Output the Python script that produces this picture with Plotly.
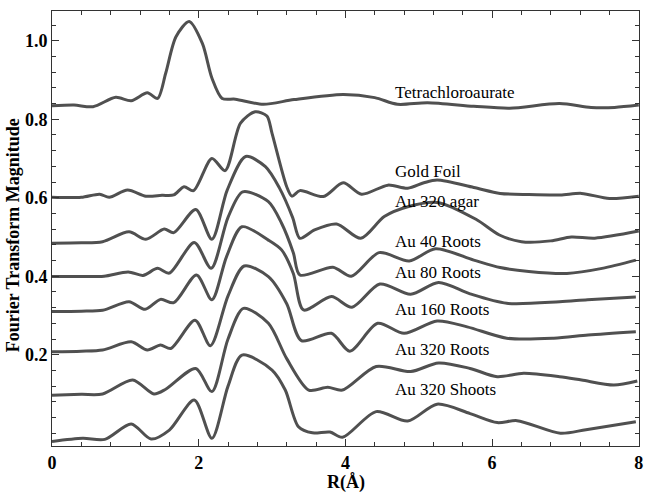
import plotly.graph_objects as go

# ---- data (R in Angstrom, FT magnitude incl. vertical offset) ----
tetra_x = [0, 0.3, 0.56, 0.87, 1.08, 1.30, 1.44, 1.55, 1.69, 1.87, 2.05, 2.18, 2.32, 2.5, 2.88, 3.3, 3.97, 4.4, 4.71, 5.12, 5.75, 6.24, 6.92, 7.35, 7.67, 8.0]
tetra_y = [0.834, 0.836, 0.832, 0.856, 0.847, 0.8675, 0.853, 0.917, 1.01, 1.049, 0.993, 0.905, 0.853, 0.851, 0.838, 0.850, 0.863, 0.855, 0.838, 0.842, 0.833, 0.828, 0.840, 0.830, 0.830, 0.836]

foil_x = [0, 0.4, 0.65, 0.78, 1.03, 1.28, 1.5, 1.66, 1.80, 1.93, 2.18, 2.36, 2.57, 2.77, 2.93, 3.0, 3.2, 3.27, 3.38, 3.70, 3.97, 4.22, 4.58, 4.85, 5.07, 5.25, 5.75, 6.11, 6.5, 6.93, 7.22, 7.60, 8.0]
foil_y = [0.601, 0.601, 0.609, 0.601, 0.6196, 0.604, 0.606, 0.607, 0.628, 0.618, 0.700, 0.669, 0.790, 0.819, 0.808, 0.764, 0.628, 0.604, 0.618, 0.603, 0.638, 0.609, 0.632, 0.624, 0.638, 0.645, 0.626, 0.611, 0.608, 0.607, 0.611, 0.598, 0.604]

agar_x = [0, 0.4, 0.69, 1.05, 1.28, 1.53, 1.66, 1.96, 2.18, 2.39, 2.64, 2.91, 3.10, 3.28, 3.38, 3.58, 3.88, 4.21, 4.53, 4.85, 5.25, 5.78, 6.1, 6.4, 6.8, 7.08, 7.40, 8.0]
agar_y = [0.484, 0.485, 0.488, 0.513, 0.494, 0.520, 0.511, 0.570, 0.494, 0.620, 0.705, 0.679, 0.625, 0.55, 0.4965, 0.518, 0.533, 0.4965, 0.552, 0.577, 0.588, 0.545, 0.505, 0.488, 0.490, 0.500, 0.497, 0.515]

r40_x = [0, 0.4, 0.71, 1.04, 1.24, 1.44, 1.60, 1.94, 2.17, 2.40, 2.60, 2.95, 3.13, 3.29, 3.38, 3.83, 4.08, 4.46, 4.87, 5.23, 5.75, 6.11, 6.5, 7.02, 7.5, 7.96]
r40_y = [0.399, 0.399, 0.400, 0.411, 0.402, 0.420, 0.408, 0.486, 0.420, 0.55, 0.615, 0.590, 0.535, 0.46, 0.403, 0.423, 0.400, 0.460, 0.439, 0.470, 0.441, 0.422, 0.412, 0.407, 0.420, 0.441]

r80_x = [0, 0.4, 0.69, 1.05, 1.27, 1.48, 1.66, 1.97, 2.18, 2.38, 2.59, 2.95, 3.13, 3.29, 3.43, 3.81, 4.09, 4.47, 4.89, 5.27, 5.7, 6.20, 6.92, 7.3, 7.96]
r80_y = [0.310, 0.311, 0.313, 0.335, 0.3156, 0.341, 0.3325, 0.403, 0.340, 0.45, 0.526, 0.492, 0.467, 0.407, 0.314, 0.348, 0.321, 0.380, 0.354, 0.384, 0.355, 0.331, 0.335, 0.340, 0.347]

r160_x = [0, 0.4, 0.69, 1.08, 1.30, 1.48, 1.62, 1.95, 2.16, 2.40, 2.62, 2.95, 3.2, 3.40, 3.81, 4.06, 4.44, 4.80, 5.25, 5.66, 6.20, 6.84, 7.31, 7.96]
r160_y = [0.2077, 0.209, 0.212, 0.233, 0.212, 0.2247, 0.216, 0.288, 0.223, 0.35, 0.426, 0.399, 0.33, 0.236, 0.2545, 0.209, 0.280, 0.2545, 0.286, 0.271, 0.242, 0.242, 0.250, 0.2586]

r320_x = [0, 0.4, 0.69, 1.10, 1.39, 1.55, 1.96, 2.18, 2.40, 2.61, 2.95, 3.20, 3.50, 3.76, 3.96, 4.42, 4.89, 5.27, 5.7, 6.07, 6.43, 6.92, 7.22, 7.66, 7.98]
r320_y = [0.097, 0.099, 0.0999, 0.1355, 0.0999, 0.112, 0.165, 0.106, 0.24, 0.318, 0.280, 0.19, 0.110, 0.117, 0.110, 0.170, 0.157, 0.179, 0.165, 0.144, 0.1526, 0.144, 0.1355, 0.1228, 0.133]

shoot_x = [0, 0.42, 0.72, 1.08, 1.35, 1.60, 1.94, 2.18, 2.40, 2.59, 3.0, 3.18, 3.36, 3.55, 3.79, 3.96, 4.42, 4.85, 5.25, 5.7, 6.07, 6.34, 6.93, 7.28, 7.96]
shoot_y = [-0.021, -0.013, -0.0157, 0.0234, -0.0148, 0.008, 0.0846, -0.013, 0.12, 0.199, 0.161, 0.110, 0.0166, 0.001, 0.003, -0.0105, 0.055, 0.031, 0.074, 0.05, 0.027, 0.032, 0.0, 0.009, 0.029]

series_names = ["Tetrachloroaurate", "Gold Foil", "Au 320 agar", "Au 40 Roots",
                "Au 80 Roots", "Au 160 Roots", "Au 320 Roots", "Au 320 Shoots"]
series_x = [tetra_x, foil_x, agar_x, r40_x, r80_x, r160_x, r320_x, shoot_x]
series_y = [tetra_y, foil_y, agar_y, r40_y, r80_y, r160_y, r320_y, shoot_y]

x_ticks = [0, 2, 4, 6, 8]
y_ticks = [0.2, 0.4, 0.6, 0.8, 1.0]
y_tick_text = ["0.2", "0.4", "0.6", "0.8", "1.0"]

# label anchor (left edge x, vertical centre y) in data units
label_x = 4.645
label_y = [0.868, 0.667, 0.590, 0.488, 0.409, 0.315, 0.213, 0.111]

SERIF = "Liberation Serif"

fig = go.Figure()
for name, xs, ys in zip(series_names, series_x, series_y):
    fig.add_trace(go.Scatter(
        x=xs, y=ys, mode="lines", name=name,
        line=dict(color="#505050", width=3, shape="spline", smoothing=0.8),
        showlegend=False,
    ))

for name, ly in zip(series_names, label_y):
    fig.add_annotation(x=label_x, y=ly, xref="x", yref="y", text=name,
                       showarrow=False, xanchor="left", yanchor="middle",
                       font=dict(family=SERIF, size=17, color="black"))

fig.add_annotation(x=-0.066, y=0.485, xref="paper", yref="paper",
                   text="Fourier Transform Magnitude", textangle=-90,
                   showarrow=False, xanchor="center", yanchor="middle",
                   font=dict(family=SERIF, size=18, color="black", weight="bold"))
fig.add_annotation(x=0.5, y=-0.083, xref="paper", yref="paper",
                   text="R(Å)", showarrow=False, xanchor="center", yanchor="middle",
                   font=dict(family=SERIF, size=18, color="black", weight="bold"))

axis_common = dict(
    showline=True, linecolor="#333", linewidth=1, mirror="ticks",
    ticks="inside", ticklen=7, tickwidth=1, tickcolor="#333",
    showgrid=False, zeroline=False,
    ticklabeloverflow="allow",
    tickfont=dict(family=SERIF, size=18, color="black", weight="bold"),
)

fig.update_xaxes(range=[0, 8.003], tickmode="array", tickvals=x_ticks,
                 minor=dict(dtick=0.4, tick0=0, ticks="inside", ticklen=4, tickcolor="#333", showgrid=False),
                 **axis_common)
fig.update_yaxes(range=[-0.0326, 1.0757], tickmode="array", tickvals=y_ticks, ticktext=y_tick_text,
                 minor=dict(dtick=0.04, tick0=0, ticks="inside", ticklen=4, tickcolor="#333", showgrid=False),
                 **axis_common)

fig.update_layout(
    width=647, height=494,
    margin=dict(l=52, r=4, t=11, b=48),
    paper_bgcolor="white", plot_bgcolor="white",
)

fig.write_html("out.html")
